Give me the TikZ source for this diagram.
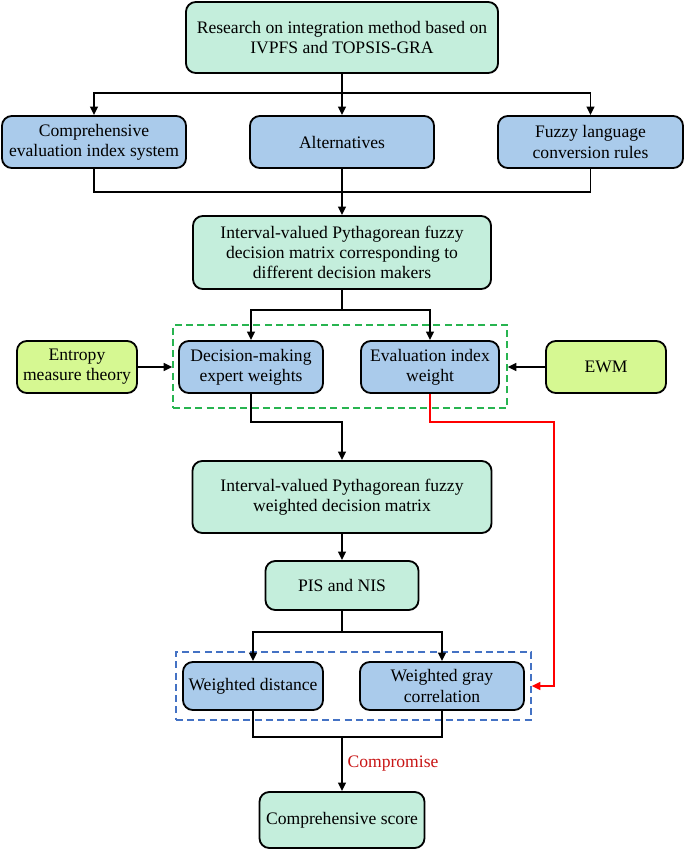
\documentclass[tikz,border=0pt]{standalone}
\usepackage{fontspec}
\setmainfont{Liberation Serif}
\usetikzlibrary{arrows.meta}
\definecolor{mint}{RGB}{196,238,220}
\definecolor{sky}{RGB}{170,203,235}
\definecolor{lime}{RGB}{214,248,146}
\definecolor{gdash}{RGB}{40,180,80}
\definecolor{bdash}{RGB}{68,114,196}
\definecolor{darkred}{RGB}{200,20,20}
\tikzset{
  box/.style={draw, line width=1.3pt, rounded corners=7pt, align=center, inner sep=2pt},
  mbox/.style={box, fill=mint},
  bbox/.style={box, fill=sky},
  lbox/.style={box, fill=lime},
  grp/.style={draw, line width=1.1pt, dash pattern=on 5pt off 3pt},
  wire/.style={line width=1.3pt},
  link/.style={wire, ->},
}
\begin{document}
\begin{tikzpicture}[x=0.025cm, y=-0.025cm, >={Triangle[length=6pt,width=5.5pt]}, font=\fontsize{12.5}{14.4}\selectfont, line join=miter]
	\useasboundingbox (0,0) rectangle (685,850);
	% rows of boxes
	\node[mbox, minimum width=7.8cm, minimum height=1.775cm] (top) at (342,37.5) {Research on integration method based on\\IVPFS and TOPSIS-GRA};
	\node[bbox, minimum width=4.6cm, minimum height=1.3cm] (idx) at (94,142) {Comprehensive\\evaluation index system};
	\node[bbox, minimum width=4.6cm, minimum height=1.3cm] (alt) at (342,142) {Alternatives};
	\node[bbox, minimum width=4.625cm, minimum height=1.3cm] (rule) at (590.5,142) {Fuzzy language\\conversion rules};
	\node[mbox, minimum width=7.45cm, minimum height=1.825cm] (mat) at (342,252.5) {Interval-valued Pythagorean fuzzy\\decision matrix corresponding to\\different decision makers};
	\node[grp, draw=gdash, minimum width=8.35cm, minimum height=2.075cm] (ggrp) at (340,366.5) {};
	\node[lbox, minimum width=3cm, minimum height=1.3cm] (ent) at (77,367) {Entropy\\measure theory};
	\node[bbox, minimum width=3.6cm, minimum height=1.3cm] (dmw) at (251,367) {Decision-making\\expert weights};
	\node[bbox, minimum width=3.45cm, minimum height=1.3cm] (eiw) at (430,367) {Evaluation index\\weight};
	\node[lbox, minimum width=3cm, minimum height=1.3cm] (ewm) at (606,367) {EWM};
	\node[mbox, minimum width=7.475cm, minimum height=1.8cm] (wmat) at (342,497) {Interval-valued Pythagorean fuzzy\\weighted decision matrix};
	\node[mbox, minimum width=3.825cm, minimum height=1.225cm] (pis) at (342,585.5) {PIS and NIS};
	\node[grp, draw=bdash, minimum width=8.875cm, minimum height=1.7cm] (bgrp) at (353.5,686) {};
	\node[bbox, minimum width=3.5cm, minimum height=1.2cm] (wd) at (253,686) {Weighted distance};
	\node[bbox, minimum width=4.1cm, minimum height=1.2cm] (wg) at (442,686) {Weighted gray\\correlation};
	\node[mbox, minimum width=4.125cm, minimum height=1.4cm] (score) at (342,820) {Comprehensive score};
	% junctions
	\coordinate (s1) at (342,93);
	\coordinate (j1) at (342,192);
	\coordinate (s2) at (342,310);
	\coordinate (j2) at (342,422);
	\coordinate (r1) at (554,422);
	\coordinate (s3) at (342,632);
	\coordinate (j3) at (342,737);
	% connectors
	\draw[wire] (top) -- (s1);
	\draw[link] (s1) -- (alt);
	\draw[link] (s1) -| (idx);
	\draw[link] (s1) -| (rule);
	\draw[wire] (idx) |- (j1) -| (rule);
	\draw[link] (alt) -- (mat);
	\draw[wire] (mat) -- (s2);
	\draw[link] (s2) -| (dmw);
	\draw[link] (s2) -| (eiw);
	\draw[link] (ent) -- (ggrp.west |- ent);
	\draw[link] (ewm) -- (ggrp.east |- ewm);
	\draw[link] (dmw) |- (j2) -- (wmat);
	\draw[link, red] (eiw) |- (r1) |- (bgrp.east);
	\draw[link] (wmat) -- (pis);
	\draw[wire] (pis) -- (s3);
	\draw[link] (s3) -| (wd);
	\draw[link] (s3) -| (wg);
	\draw[wire] (wd) |- (j3) -| (wg);
	\draw[link] (j3) -- (score) node[midway, right, text=darkred]{Compromise};
\end{tikzpicture}
\end{document}
